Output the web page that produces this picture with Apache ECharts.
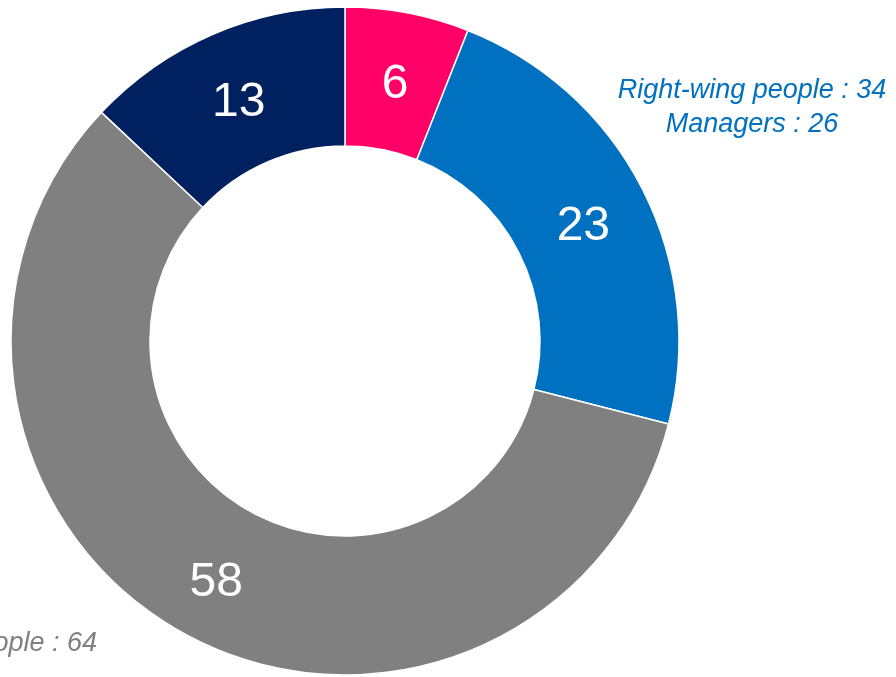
<!DOCTYPE html>
<html>
<head>
    <meta charset="utf-8">
    <title>Donut</title>
    <script src="https://cdn.jsdelivr.net/npm/echarts@6/dist/echarts.min.js"></script>
    <style>
        html, body { margin: 0; padding: 0; background: #fff; }
        #chart1 { width: 896px; height: 677px; }
    </style>
</head>
<body>
<div id="chart1"></div>
<script type="text/javascript">
    // slices, clockwise from 12 o'clock
    var sliceNames = ['Pink', 'Blue', 'Gray', 'Navy'];
    var sliceValues = [6, 23, 58, 13];
    var sliceColors = ['#ff0066', '#0070c0', '#808080', '#002060'];

    // side notes
    var noteTopNames = ['Right-wing people', 'Managers'];
    var noteTopValues = [34, 26];
    var noteBottomNames = ['Left-wing people'];
    var noteBottomValues = [64];

    var myChart1 = echarts.init(document.getElementById('chart1'));

    var pieData = sliceValues.map(function (v, i) {
        return { name: sliceNames[i], value: v, itemStyle: { color: sliceColors[i] } };
    });

    var noteTop = noteTopNames.map(function (n, i) {
        return n + ' : ' + noteTopValues[i];
    }).join('\n');
    var noteBottom = noteBottomNames.map(function (n, i) {
        return n + ' : ' + noteBottomValues[i];
    }).join('\n');

    myChart1.setOption({
        animation: false,
        series: [{
            type: 'pie',
            center: [345, 341],
            radius: [195, 334],
            startAngle: 90,
            clockwise: true,
            avoidLabelOverlap: false,
            itemStyle: { borderColor: '#fff', borderWidth: 1.5 },
            label: {
                show: true,
                position: 'inside',
                formatter: '{c}',
                color: '#fff',
                fontSize: 48,
                offset: [0, 7],
                fontFamily: 'Liberation Sans, Arial, sans-serif'
            },
            labelLine: { show: false },
            emphasis: { disabled: true },
            data: pieData
        }],
        graphic: [{
            type: 'text',
            x: 752,
            y: 107,
            style: {
                text: noteTop,
                fill: '#0070c0',
                font: 'italic 27px "Liberation Sans", Arial, sans-serif',
                align: 'center',
                verticalAlign: 'middle',
                lineHeight: 34
            }
        }, {
            type: 'text',
            x: 97,
            y: 643,
            style: {
                text: noteBottom,
                fill: '#808080',
                font: 'italic 27px "Liberation Sans", Arial, sans-serif',
                align: 'right',
                verticalAlign: 'middle',
                lineHeight: 34
            }
        }]
    });
</script>
</body>
</html>
